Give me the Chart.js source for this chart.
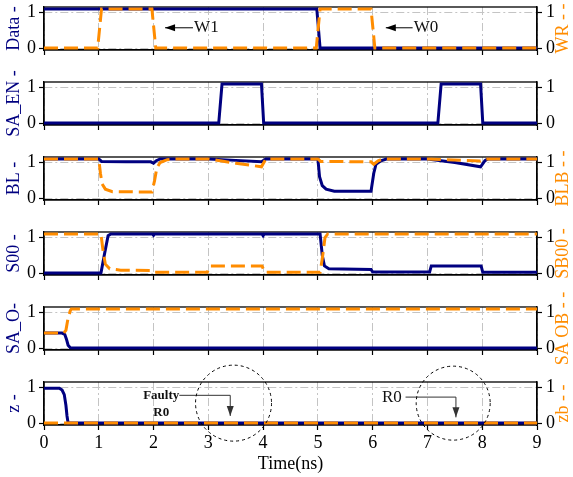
<!DOCTYPE html>
<html>
<head>
<meta charset="utf-8">
<script src="https://cdn.jsdelivr.net/npm/chart.js@4.4.1/dist/chart.umd.min.js"></script>
<style>
body { margin: 0; background: #fff; }
#wrap { position: relative; width: 573px; height: 477px; overflow: hidden; }
#wrap canvas { position: absolute; left: 0; }
</style>
</head>
<body>
<div id="wrap"></div>
<script>
var SERIF = "'Liberation Serif', 'DejaVu Serif', serif";
var NAVY = '#000080';
var ORANGE = '#ff8c00';

var xTicks = [0, 1, 2, 3, 4, 5, 6, 7, 8, 9];
var yTicks = [0, 1];

// Data / WR
var dataT = [0, 4.98, 5.04, 9];
var dataV = [1.1, 1.1, 0, 0];
var wrT = [0, 0.98, 1.05, 1.97, 2.04, 4.97, 5.04, 5.97, 6.04, 9];
var wrV = [0, 0, 1.1, 1.1, 0, 0, 1.1, 1.1, 0, 0];

// SA_EN
var saEnT = [0, 3.19, 3.25, 3.97, 4.01, 7.19, 7.25, 7.97, 8.01, 9];
var saEnV = [0, 0, 1.1, 1.1, 0, 0, 1.1, 1.1, 0, 0];

// BL / BLB
var blT = [0, 1.0, 1.05, 1.5, 1.95, 2.0, 2.05, 2.12, 3.0, 3.5, 3.97, 4.05, 5.0, 5.03, 5.08, 5.15, 5.3, 5.97, 6.02, 6.06, 6.15, 6.25, 7.0, 7.5, 7.97, 8.05, 8.1, 9];
var blV = [1.1, 1.1, 1.03, 1.02, 1.02, 0.98, 1.05, 1.1, 1.1, 1.06, 1.02, 1.1, 1.1, 0.6, 0.35, 0.25, 0.19, 0.19, 0.7, 0.95, 1.05, 1.1, 1.1, 1.0, 0.88, 1.05, 1.1, 1.1];
var blbT = [0, 1.0, 1.03, 1.06, 1.12, 1.25, 1.97, 2.02, 2.06, 2.12, 2.25, 2.4, 3.0, 3.5, 3.97, 4.05, 5.0, 5.05, 5.97, 6.02, 6.1, 6.2, 7.0, 7.97, 8.05, 9];
var blbV = [1.1, 1.1, 0.7, 0.4, 0.25, 0.18, 0.17, 0.5, 0.85, 1.0, 1.08, 1.1, 1.1, 0.98, 0.88, 1.1, 1.1, 1.03, 1.02, 0.95, 1.05, 1.1, 1.1, 1.04, 1.1, 1.1];

// S00 / SB00
var s00T = [0, 1.04, 1.1, 1.17, 1.22, 1.98, 2.0, 2.02, 3.98, 4.0, 4.02, 5.04, 5.08, 5.12, 5.2, 5.97, 6.0, 7.04, 7.07, 7.98, 8.01, 9];
var s00V = [0, 0, 0.5, 1.05, 1.1, 1.1, 1.06, 1.1, 1.1, 1.05, 1.1, 1.1, 0.5, 0.2, 0.12, 0.1, 0.03, 0.03, 0.2, 0.2, 0.02, 0.02];
var sb00T = [0, 1.04, 1.08, 1.12, 1.2, 1.4, 1.98, 2.02, 2.98, 3.03, 3.98, 4.03, 5.04, 5.08, 5.13, 5.18, 9];
var sb00V = [1.1, 1.1, 0.6, 0.25, 0.12, 0.08, 0.07, 0.02, 0.02, 0.2, 0.2, 0.02, 0.02, 0.4, 1.0, 1.1, 1.1];

// SA_O / SA OB
var saOT = [0, 0.33, 0.38, 0.41, 0.44, 0.48, 0.6, 9];
var saOV = [0.42, 0.42, 0.38, 0.25, 0.08, 0.01, 0, 0];
var saObT = [0, 0.36, 0.4, 0.44, 0.48, 0.5, 9];
var saObV = [0.42, 0.42, 0.5, 0.85, 1.05, 1.1, 1.1];

// z / zb
var zT = [0, 0.28, 0.33, 0.37, 0.4, 0.42, 0.44, 9];
var zV = [0.98, 0.98, 0.93, 0.8, 0.5, 0.2, 0, 0];
var zbT = [0, 9];
var zbV = [0, 0];

var panels = [
    {left: 'Data -', right: 'WR - -', solid: [dataT, dataV], dash: [wrT, wrV],
     notes: [
        {kind: 'path', pts: [[2.72, 0.57], [2.21, 0.57]], color: '#000'},
        {kind: 'text', text: 'W1', at: [2.74, 0.57], align: 'left', size: 17},
        {kind: 'path', pts: [[6.73, 0.57], [6.24, 0.57]], color: '#000'},
        {kind: 'text', text: 'W0', at: [6.75, 0.57], align: 'left', size: 17}
     ]},
    {left: 'SA_EN -', right: '', solid: [saEnT, saEnV], dash: null, notes: []},
    {left: 'BL -', right: 'BLB - -', solid: [blT, blV], dash: [blbT, blbV], notes: []},
    {left: 'S00 -', right: 'SB00 -', solid: [s00T, s00V], dash: [sb00T, sb00V], notes: []},
    {left: 'SA_O-', right: 'SA OB - -', solid: [saOT, saOV], dash: [saObT, saObV], notes: []},
    {left: 'z -', right: 'zb - -', solid: [zT, zV], dash: [zbT, zbV],
     notes: [
        {kind: 'text', text: 'Faulty', at: [2.14, 0.77], align: 'center', size: 13, bold: true},
        {kind: 'text', text: 'R0', at: [2.14, 0.29], align: 'center', size: 13, bold: true},
        {kind: 'path', pts: [[2.47, 0.78], [3.4, 0.78], [3.4, 0.2]], color: '#333'},
        {kind: 'circle', at: [3.46, 0.56], r: 38},
        {kind: 'text', text: 'R0', at: [6.35, 0.71], align: 'center', size: 17},
        {kind: 'path', pts: [[6.6, 0.73], [7.52, 0.73], [7.52, 0.16]], color: '#333'},
        {kind: 'circle', at: [7.47, 0.56], r: 37}
     ]}
];

function pts(t, v) {
    return t.map(function(x, i) { return {x: x, y: v[i]}; });
}

var framePlugin = {
    id: 'frame',
    beforeDatasetsDraw: function(chart) {
        var ca = chart.chartArea, ctx = chart.ctx;
        ctx.save();
        ctx.strokeStyle = '#000';
        ctx.lineWidth = 1.3;
        ctx.strokeRect(ca.left, ca.top, ca.right - ca.left, ca.bottom - ca.top);
        ctx.restore();
    }
};

var rightTitlePlugin = {
    id: 'rightTitle',
    afterDraw: function(chart) {
        var txt = chart.options.plugins.rightTitle.text;
        if (!txt) return;
        var ca = chart.chartArea, ctx = chart.ctx;
        ctx.save();
        ctx.translate(563, (ca.top + ca.bottom) / 2);
        ctx.rotate(-Math.PI / 2);
        ctx.font = '18px ' + SERIF;
        ctx.fillStyle = ORANGE;
        ctx.textAlign = 'center';
        ctx.textBaseline = 'middle';
        ctx.fillText(txt, 0, 0);
        ctx.restore();
    }
};

var notesPlugin = {
    id: 'notes',
    afterDatasetsDraw: function(chart) {
        var items = chart.options.plugins.notes.items || [];
        var ctx = chart.ctx, xs = chart.scales.x, ys = chart.scales.y;
        items.forEach(function(n) {
            ctx.save();
            if (n.kind === 'text') {
                ctx.font = (n.bold ? 'bold ' : '') + n.size + 'px ' + SERIF;
                ctx.fillStyle = '#111';
                ctx.textAlign = n.align;
                ctx.textBaseline = 'middle';
                ctx.fillText(n.text, xs.getPixelForValue(n.at[0]), ys.getPixelForValue(n.at[1]));
            } else if (n.kind === 'path') {
                var p = n.pts.map(function(q) { return [xs.getPixelForValue(q[0]), ys.getPixelForValue(q[1])]; });
                ctx.strokeStyle = n.color;
                ctx.fillStyle = n.color;
                ctx.lineWidth = 1;
                ctx.beginPath();
                ctx.moveTo(p[0][0], p[0][1]);
                for (var i = 1; i < p.length; i++) ctx.lineTo(p[i][0], p[i][1]);
                ctx.stroke();
                var a = p[p.length - 2], b = p[p.length - 1];
                var ang = Math.atan2(b[1] - a[1], b[0] - a[0]);
                ctx.translate(b[0], b[1]);
                ctx.rotate(ang);
                ctx.beginPath();
                ctx.moveTo(0, 0);
                ctx.lineTo(-10, -3.5);
                ctx.lineTo(-10, 3.5);
                ctx.closePath();
                ctx.fill();
            } else if (n.kind === 'circle') {
                ctx.strokeStyle = '#000';
                ctx.lineWidth = 1;
                ctx.setLineDash([3, 3]);
                ctx.beginPath();
                ctx.arc(xs.getPixelForValue(n.at[0]), ys.getPixelForValue(n.at[1]), n.r, 0, Math.PI * 2);
                ctx.stroke();
            }
            ctx.restore();
        });
    }
};

function makePanel(i) {
    var p = panels[i];
    var last = (i === panels.length - 1);
    var areaTop = 7 + i * 75;
    var padTop = 22;
    var xHeight = last ? 52 : 40;
    var h = padTop + 43 + xHeight;

    var canvas = document.createElement('canvas');
    canvas.width = 573;
    canvas.height = h;
    canvas.style.top = (areaTop - padTop) + 'px';
    document.getElementById('wrap').appendChild(canvas);

    var datasets = [{
        data: pts(p.solid[0], p.solid[1]),
        yAxisID: 'y',
        borderColor: NAVY,
        borderWidth: 3,
        pointRadius: 0,
        tension: 0,
        order: 1
    }];
    if (p.dash) {
        datasets.push({
            data: pts(p.dash[0], p.dash[1]),
            yAxisID: 'y2',
            borderColor: ORANGE,
            borderWidth: 3,
            borderDash: [14, 6],
            pointRadius: 0,
            tension: 0,
            order: 0
        });
    }

    var gridDash = [8, 3, 2, 3];
    var yCommon = function(pos) {
        return {
            position: pos,
            min: -0.055,
            max: 1.155,
            afterBuildTicks: function(s) { s.ticks = yTicks.map(function(v) { return {value: v}; }); },
            ticks: {font: {family: SERIF, size: 18}, color: '#000', padding: pos === 'left' ? 3 : 4},
            grid: {
                color: '#c4c4c4', lineWidth: 1, tickLength: 5, tickColor: '#000', tickWidth: 1.2,
                drawOnChartArea: pos === 'left'
            },
            border: {display: true, color: '#000', width: 1.3, dash: gridDash},
            afterFit: function(s) {
                s.width = pos === 'left' ? 44 : 36;
                s.paddingTop = 0;
                s.paddingBottom = 0;
            }
        };
    };
    var yLeft = yCommon('left');
    yLeft.title = {display: true, text: p.left, color: NAVY, font: {family: SERIF, size: 18}, padding: {top: 3, bottom: 0}};
    var yRight = yCommon('right');

    new Chart(canvas, {
        type: 'line',
        data: {datasets: datasets},
        options: {
            responsive: false,
            animation: false,
            layout: {padding: {top: padTop, bottom: 0, left: 0, right: 0}},
            plugins: {
                legend: {display: false},
                tooltip: {enabled: false},
                rightTitle: {text: p.right},
                notes: {items: p.notes}
            },
            scales: {
                x: {
                    type: 'linear',
                    min: xTicks[0],
                    max: xTicks[xTicks.length - 1],
                    afterBuildTicks: function(s) { s.ticks = xTicks.map(function(v) { return {value: v}; }); },
                    ticks: {display: last, font: {family: SERIF, size: 18}, color: '#000', padding: 2, maxRotation: 0, autoSkip: false},
                    grid: {color: '#c4c4c4', lineWidth: 1, tickLength: 5, tickColor: '#000', tickWidth: 1.2},
                    border: {display: true, color: '#000', width: 1.3, dash: gridDash},
                    title: {display: last, text: 'Time(ns)', color: '#000', font: {family: SERIF, size: 18}, padding: {top: 0, bottom: 2}},
                    afterFit: function(s) {
                        s.height = xHeight;
                        s.paddingLeft = 0;
                        s.paddingRight = 0;
                    }
                },
                y: yLeft,
                y2: yRight
            }
        },
        plugins: [framePlugin, rightTitlePlugin, notesPlugin]
    });
}

for (var i = 0; i < panels.length; i++) {
    makePanel(i);
}
</script>
</body>
</html>
